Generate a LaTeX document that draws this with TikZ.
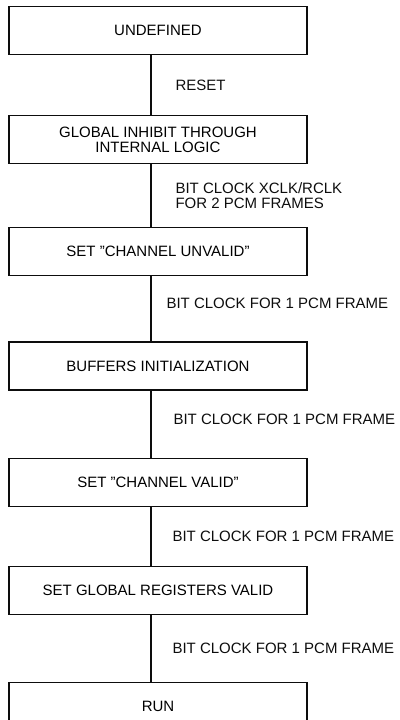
\documentclass[tikz,border=0pt]{standalone}
\usepackage{fontspec}
\setmainfont{Liberation Sans}
\usepackage{tikz}
\usetikzlibrary{arrows.meta, calc, positioning}
\usepackage{xcolor}
\definecolor{InkBlack}{gray}{0.05}
\newcommand{\straightquote}{\symbol{34}}
\tikzset{%
  state_block/.style={%
    rectangle,%
    minimum width=298,%
    minimum height=48,%
    draw=InkBlack,%
    line width=1.3pt,%
    font={\fontsize{15}{14.5}\selectfont},%
    align=center%
  },
  flow_path/.style={%
    color=InkBlack,%
    line width=1.1pt,%
  },
  cond_annotate/.style={%
    color=InkBlack,%
    font={\fontsize{15}{14.5}\selectfont},%
    align=left,%
    inner sep=0pt,%
  },
}
\begin{document}
\begin{tikzpicture}[x=1pt, y=1pt]

    \clip (0, 0) rectangle (399, -720);

    \node [state_block] (Undefined) at (158, -30.5) {UNDEFINED};
    \node [state_block, below = 60 of Undefined] (Inhibit)
      {GLOBAL INHIBIT THROUGH\\INTERNAL LOGIC};
    \node [state_block, below = 62.5 of Inhibit] (Unvalid)
      {SET \straightquote CHANNEL UNVALID\straightquote};
    \node [state_block, below = 65 of Unvalid] (Buffers) {BUFFERS INITIALIZATION};
    \node [state_block, below = 67.5 of Buffers] (Valid)
      {SET \straightquote CHANNEL VALID\straightquote};
    \node [state_block, below = 58.5 of Valid] (Registers) {SET GLOBAL REGISTERS VALID};
    \node [state_block, below = 66.5 of Registers] (Run) {RUN};

    \coordinate (spine) at (151, 0);

    \draw [flow_path]
      (Undefined.south -| spine)
      --
      node [cond_annotate, right = 24pt] (Reset) {RESET}
      (Inhibit.north -| spine);
    \draw [flow_path]
      (Inhibit.south -| spine)
      --
      node [cond_annotate, right = 24pt] (TwoFrames)
        {BIT CLOCK XCLK/RCLK\\FOR 2 PCM FRAMES}
      (Unvalid.north -| spine);
    \draw [flow_path]
      (Unvalid.south -| spine)
      --
      node [cond_annotate, right = 15pt, pos=0.42] (FrameA) {BIT CLOCK FOR 1 PCM FRAME}
      (Buffers.north -| spine);
    \draw [flow_path]
      (Buffers.south -| spine)
      --
      node [cond_annotate, right = 22pt, pos=0.42] (FrameB) {BIT CLOCK FOR 1 PCM FRAME}
      (Valid.north -| spine);
    \draw [flow_path]
      (Valid.south -| spine)
      --
      node [cond_annotate, right = 21pt] (FrameC) {BIT CLOCK FOR 1 PCM FRAME}
      (Registers.north -| spine);
    \draw [flow_path]
      (Registers.south -| spine)
      --
      node [cond_annotate, right = 21pt] (FrameD) {BIT CLOCK FOR 1 PCM FRAME}
      (Run.north -| spine);
  \end{tikzpicture}
\end{document}
